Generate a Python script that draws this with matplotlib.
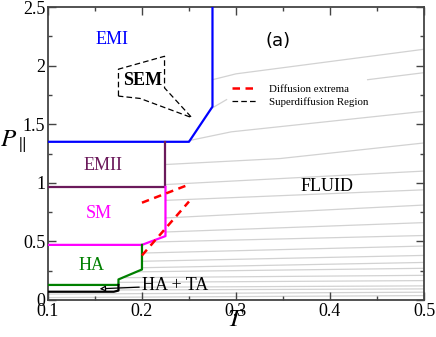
import matplotlib
matplotlib.use("Agg")
import matplotlib.pyplot as plt
from matplotlib.ticker import MultipleLocator, FuncFormatter

plt.rcParams['font.family'] = ['Liberation Serif', 'DejaVu Serif']
plt.rcParams['mathtext.fontset'] = 'stix'

# ---------------- data ----------------
# phase boundaries (T, P)
emi_T = [0.1, 0.25, 0.275, 0.275]
emi_P = [1.35, 1.35, 1.65, 2.5]
emii_T = [0.1, 0.225, 0.225]
emii_P = [0.965, 0.965, 1.35]
sm_T = [0.1, 0.2, 0.225, 0.225]
sm_P = [0.47, 0.47, 0.545, 0.965]
ha_T = [0.1, 0.175, 0.175, 0.2, 0.2]
ha_P = [0.128, 0.128, 0.175, 0.26, 0.47]
hata_T = [0.1, 0.17, 0.175, 0.175]
hata_P = [0.07, 0.07, 0.08, 0.128]

# diffusion extrema (red dashed)
dext1_T = [0.2, 0.25]
dext1_P = [0.83, 0.985]
dext2_T = [0.2, 0.25]
dext2_P = [0.38, 0.84]

# superdiffusion region (black dashed polygon)
sem_T = [0.175, 0.175, 0.224, 0.224, 0.253, 0.198, 0.175]
sem_P = [1.74, 1.97, 2.08, 1.81, 1.556, 1.72, 1.74]

# isochores (grey) : kinked ones
iso_a_T = [0.275, 0.30, 0.5]
iso_a_P = [1.88, 1.93, 2.14]
iso_b_T = [0.25, 0.295, 0.5]
iso_b_P = [1.36, 1.435, 1.61]
iso_c_T = [0.275, 0.29]
iso_c_P = [1.64, 1.71]
iso_d_T = [0.225, 0.347, 0.5]
iso_d_P = [1.156, 1.207, 1.34]
# straight isochores: start T, start P, P at T = 0.5
iso_T0 = [0.44, 0.225, 0.225, 0.225, 0.225, 0.215, 0.2, 0.2, 0.2, 0.196,
          0.182, 0.175, 0.175, 0.175, 0.1, 0.1]
iso_P0 = [1.88, 0.985, 0.85, 0.70, 0.58, 0.495, 0.40, 0.33, 0.275, 0.24,
          0.19, 0.15, 0.108, 0.085, 0.05, 0.02]
iso_P1 = [1.94, 1.10, 0.94, 0.81, 0.66, 0.55, 0.46, 0.38, 0.32, 0.27,
          0.21, 0.165, 0.12, 0.094, 0.066, 0.037]
T_end = 0.5

# ---------------- plot ----------------
fig = plt.figure(figsize=(4.36, 3.37), dpi=100)
ax = fig.add_axes([0.110, 0.110, 0.8625, 0.869])

grey = '#d2d2d2'
for tt, pp in [(iso_a_T, iso_a_P), (iso_b_T, iso_b_P), (iso_c_T, iso_c_P), (iso_d_T, iso_d_P)]:
    ax.plot(tt, pp, color=grey, lw=0.9, zorder=1)
for t0, p0, p1 in zip(iso_T0, iso_P0, iso_P1):
    ax.plot([t0, T_end], [p0, p1], color=grey, lw=0.9, zorder=1)

lw = 1.6
ax.plot(emi_T, emi_P, color='#0000ff', lw=lw, zorder=3)
ax.plot(emii_T, emii_P, color='#6b1a5b', lw=lw, zorder=3)
ax.plot(sm_T, sm_P, color='#ff00ff', lw=lw, zorder=3)
ax.plot(ha_T, ha_P, color='#008000', lw=lw, zorder=3)
ax.plot(hata_T, hata_P, color='black', lw=lw, zorder=3)

ax.plot(dext1_T, dext1_P, color='#ff0000', lw=1.8, dashes=(3, 2.2), zorder=4,
        label='Diffusion extrema')
ax.plot(dext2_T, dext2_P, color='#ff0000', lw=1.8, dashes=(3, 2.2), zorder=4)
ax.plot(sem_T, sem_P, color='black', lw=0.9, dashes=(4.5, 2.5), zorder=4,
        label='Superdiffusion Region')

# region labels
fs = 13
ax.text(0.168, 2.22, 'EMI', color='#0000ff', fontsize=fs, ha='center', va='center')
ax.text(0.201, 1.87, 'SEM', color='black', fontsize=fs, fontweight='bold', ha='center', va='center')
ax.text(0.159, 1.15, 'EMII', color='#6b1a5b', fontsize=fs, ha='center', va='center')
ax.text(0.154, 0.735, 'SM', color='#ff00ff', fontsize=fs, ha='center', va='center')
ax.text(0.146, 0.295, 'HA', color='#008000', fontsize=fs, ha='center', va='center')
ax.text(0.397, 0.965, 'FLUID', color='black', fontsize=fs, ha='center', va='center')
ax.text(0.345, 2.21, '(a)', color='black', fontsize=13, ha='center', va='center',
        family='DejaVu Sans')
ax.annotate('HA + TA', xy=(0.155, 0.095), xytext=(0.2, 0.122), fontsize=fs,
            ha='left', va='center',
            arrowprops=dict(arrowstyle='-|>', color='black', lw=0.9, fc='white',
                            shrinkA=0, shrinkB=0, mutation_scale=8))

ax.set_xlim(0.1, 0.5)
ax.set_ylim(0, 2.5)
ax.xaxis.set_major_locator(MultipleLocator(0.1))
ax.xaxis.set_minor_locator(MultipleLocator(0.05))
ax.yaxis.set_major_locator(MultipleLocator(0.5))
ax.yaxis.set_minor_locator(MultipleLocator(0.25))
fmt = FuncFormatter(lambda v, p: '%g' % round(v, 3))
ax.xaxis.set_major_formatter(fmt)
ax.yaxis.set_major_formatter(fmt)
ax.tick_params(which='both', direction='in', top=True, right=True, labelsize=13,
               pad=2, color='#444444')
ax.tick_params(which='major', length=5.5, width=1.0)
ax.tick_params(which='minor', length=3, width=1.0)
for s in ax.spines.values():
    s.set_linewidth(1.3)
    s.set_color('#444444')

ax.set_xlabel(r'$T$', fontsize=18)
ax.set_ylabel(r'$P_{\parallel}$', fontsize=18, rotation=0)
ax.xaxis.set_label_coords(0.5, -0.03)
ax.yaxis.set_label_coords(-0.092, 0.50)

leg = ax.legend(loc='upper left', bbox_to_anchor=(0.49, 0.735), frameon=False,
                fontsize=7.8, handlelength=2.4, handletextpad=1.0,
                labelspacing=0.25, borderaxespad=0, borderpad=0)

fig.savefig('out.png', dpi=100)
